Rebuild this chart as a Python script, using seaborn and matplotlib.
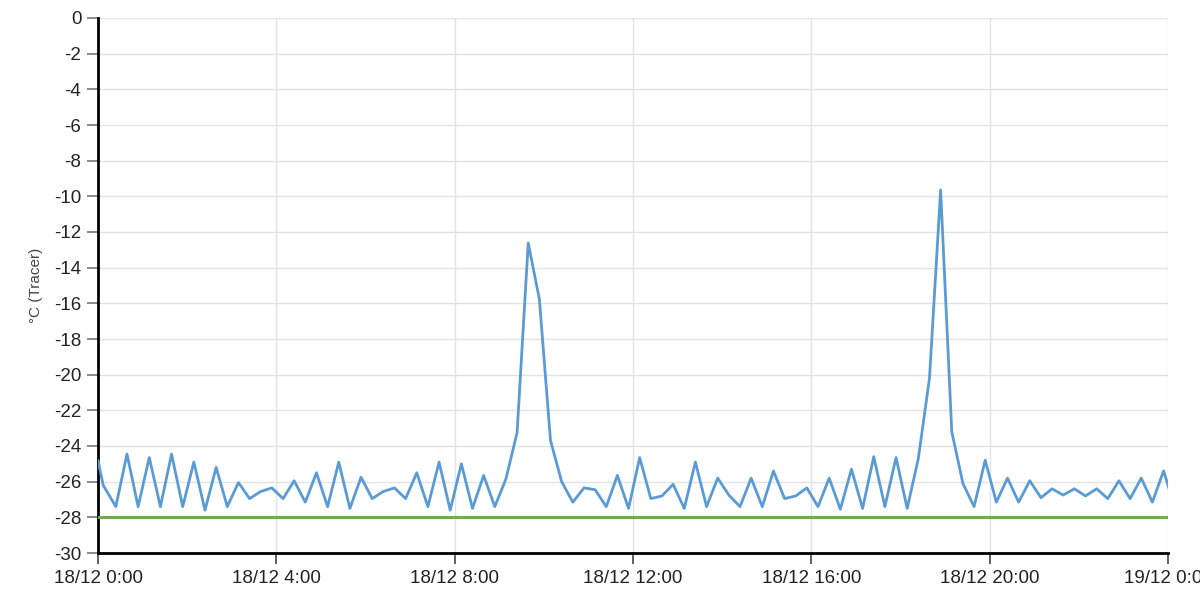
import matplotlib
matplotlib.use("Agg")
import matplotlib.pyplot as plt
import seaborn as sns
import pandas as pd

# ---- data ----
start_times = ["2023-12-18 00:00", "2023-12-18 00:07"]
start_values = [-24.8, -26.2]

regular_start = "2023-12-18 00:24"   # then every 15 minutes
regular_values = [
    -27.4, -24.45, -27.4, -24.65, -27.4, -24.45, -27.4, -24.9, -27.6, -25.2,
    -27.4, -26.05, -26.95, -26.55, -26.35, -26.95, -25.95, -27.15, -25.5, -27.4,
    -24.9, -27.5, -25.75, -26.95, -26.55, -26.35, -26.95, -25.5, -27.4, -24.9,
    -27.6, -25.0, -27.5, -25.65, -27.4, -25.85, -23.25, -12.62, -15.77, -23.7,
    -26.0, -27.15, -26.35, -26.45, -27.4, -25.65, -27.5, -24.65, -26.95, -26.8,
    -26.15, -27.5, -24.9, -27.4, -25.8, -26.75, -27.4, -25.8, -27.4, -25.4,
    -26.95, -26.8, -26.35, -27.4, -25.8, -27.55, -25.3, -27.5, -24.6, -27.4,
    -24.65, -27.5, -24.7, -20.2, -9.65, -23.2, -26.1, -27.4, -24.8, -27.15,
    -25.8, -27.15, -25.95, -26.9, -26.4, -26.75, -26.4, -26.8, -26.4, -26.95,
    -25.95, -26.95, -25.8, -27.15, -25.4, -27.4,
]

limit_value = -28.0

x_tick_labels = ["18/12 0:00", "18/12 4:00", "18/12 8:00", "18/12 12:00",
                 "18/12 16:00", "18/12 20:00", "19/12 0:00"]
y_ticks = [0, -2, -4, -6, -8, -10, -12, -14, -16, -18, -20, -22, -24, -26, -28, -30]
y_label = "°C (Tracer)"

# ---- frame ----
reg_times = pd.date_range(regular_start, periods=len(regular_values), freq="15min")
times = list(pd.to_datetime(start_times)) + list(reg_times)
values = start_values + regular_values
df = pd.DataFrame({"time": times, "value": values})

x0 = pd.Timestamp("2023-12-18 00:00")
x1 = pd.Timestamp("2023-12-19 00:00")
df_limit = pd.DataFrame({"time": [x0, x1], "value": [limit_value, limit_value]})

sns.set_theme(style="white")
plt.rcParams["font.family"] = ["Liberation Sans", "DejaVu Sans"]

fig = plt.figure(figsize=(12, 6.08), dpi=100)
ax = fig.add_axes([98 / 1200, 1 - 553 / 608, 1070 / 1200, 535 / 608])

sns.lineplot(data=df_limit, x="time", y="value", ax=ax, color="#70ad47",
             linewidth=2.2, zorder=3)
sns.lineplot(data=df, x="time", y="value", ax=ax, color="#5b9bd5",
             linewidth=2.0, zorder=4)

ax.set_xlim(x0, x1)
ax.set_ylim(-30, 0)

tick_pos = pd.date_range(x0, x1, freq="4h")
ax.set_xticks(tick_pos)
ax.set_xticklabels(x_tick_labels)
ax.set_yticks(y_ticks)
ax.set_yticklabels([str(v) for v in y_ticks])

ax.grid(True, color="#e3e3e3", linewidth=1.0)
ax.set_axisbelow(True)

for s in ["top", "right"]:
    ax.spines[s].set_visible(False)
for s in ["left", "bottom"]:
    ax.spines[s].set_color("black")
    ax.spines[s].set_linewidth(2.0)

ax.tick_params(axis="y", which="major", direction="out", length=8, width=1.2,
               color="#777777", labelsize=13.5, labelcolor="#222222", pad=4, left=True)
ax.tick_params(axis="x", which="major", direction="out", length=8, width=1.2,
               color="#444444", labelsize=13.5, labelcolor="#222222", pad=4, bottom=True)

ax.set_xlabel("")
ax.set_ylabel(y_label, fontsize=11, color="#444444", labelpad=8)

fig.savefig("out.png", dpi=100)
